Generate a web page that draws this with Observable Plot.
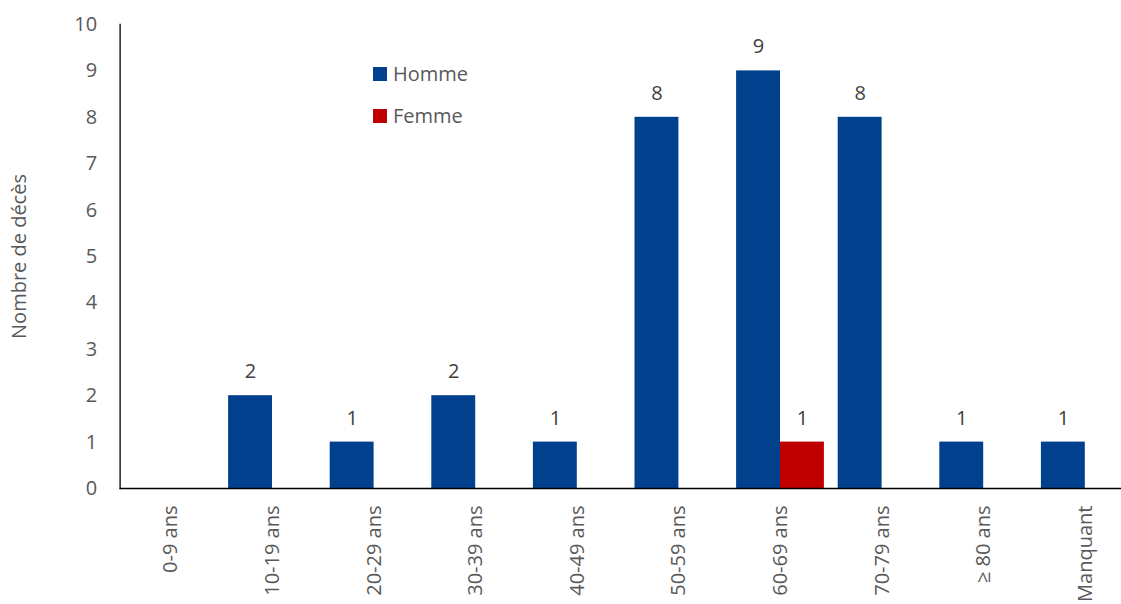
<!DOCTYPE html>
<html>
<head>
<meta charset="utf-8">
<script src="https://cdn.jsdelivr.net/npm/d3@7"></script>
<script src="https://cdn.jsdelivr.net/npm/@observablehq/plot@0.6"></script>
<style>
  html, body { margin: 0; padding: 0; background: #fff; }
  #wrap { position: relative; width: 1121px; height: 604px; font-family: "Open Sans", sans-serif; }
  .leg { position: absolute; left: 373px; font-size: 20px; color: #595959; display: flex; align-items: center; }
  .leg .sw { width: 14px; height: 14px; margin-right: 6px; }
</style>
</head>
<body>
<div id="wrap"></div>
<script>
const categories = ["0-9 ans","10-19 ans","20-29 ans","30-39 ans","40-49 ans","50-59 ans","60-69 ans","70-79 ans","≥ 80 ans","Manquant"];
const homme = [0,2,1,2,1,8,9,8,1,1];
const femme = [0,0,0,0,0,0,1,0,0,0];
const series = ["Homme","Femme"];
const colors = ["#00408C","#C00000"];
const yTicks = [0,1,2,3,4,5,6,7,8,9,10];

const data = [];
categories.forEach((c, i) => {
  data.push({cat: c, sexe: "Homme", v: homme[i]});
  data.push({cat: c, sexe: "Femme", v: femme[i]});
});
const hData = data.filter(d => d.sexe === "Homme");
const fData = data.filter(d => d.sexe === "Femme");

const x0 = 119.6, step = 101.6, inset = 6.9;
const barW = (step - 2 * inset) / 2;
const font = "Open Sans, sans-serif";

const plot = Plot.plot({
  width: 1121,
  height: 604,
  marginLeft: 119.6,
  marginRight: 0,
  marginTop: 24,
  marginBottom: 116,
  style: {fontFamily: font, fontSize: "20px", background: "#fff", color: "#595959"},
  x: {domain: categories, range: [x0, x0 + step * categories.length], padding: 0, round: false},
  y: {domain: [0, 10]},
  marks: [
    Plot.barY(hData, {x: "cat", y: "v", fill: colors[0], insetLeft: inset, insetRight: inset + barW}),
    Plot.barY(fData, {x: "cat", y: "v", fill: colors[1], insetLeft: inset + barW, insetRight: inset}),
    Plot.text(hData.filter(d => d.v > 0), {x: "cat", y: "v", text: d => String(d.v), dx: -(barW / 2), dy: -24, fill: "#404040", fontSize: 20}),
    Plot.text(fData.filter(d => d.v > 0), {x: "cat", y: "v", text: d => String(d.v), dx: barW / 2, dy: -24, fill: "#404040", fontSize: 20}),
    Plot.ruleY([0], {stroke: "#000", strokeWidth: 1.3}),
    Plot.frame({anchor: "left", stroke: "#000", strokeWidth: 1.3}),
    Plot.axisY({ticks: yTicks, tickSize: 0, tickPadding: 23, tickFormat: d => String(d), fontSize: 20, color: "#595959",
      label: "Nombre de décès", labelAnchor: "center", labelOffset: 108, labelArrow: "none"}),
    Plot.axisX({tickSize: 0, tickPadding: 17, tickRotate: -90, fontSize: 20, color: "#595959", label: null})
  ]
});
const wrap = document.getElementById("wrap");
wrap.appendChild(plot);

const legTops = [60, 102];
series.forEach((s, i) => {
  const d = document.createElement("div");
  d.className = "leg";
  d.style.top = legTops[i] + "px";
  d.innerHTML = `<span class="sw" style="background:${colors[i]}"></span><span>${s}</span>`;
  wrap.appendChild(d);
});
</script>
</body>
</html>
